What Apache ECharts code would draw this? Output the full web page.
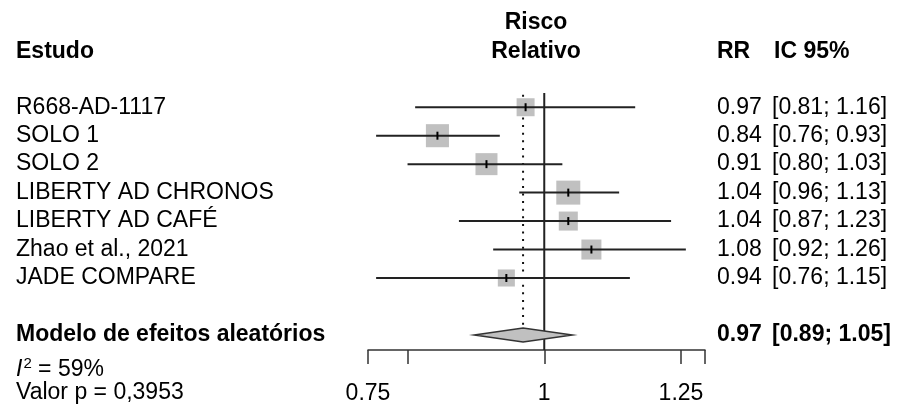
<!DOCTYPE html>
<html>
<head>
<meta charset="utf-8">
<script src="https://cdn.jsdelivr.net/npm/echarts@6/dist/echarts.min.js"></script>
<style>
  html, body { margin: 0; background: #fff; }
  #chart { width: 900px; height: 405px; }
</style>
</head>
<body>
<div id="chart"></div>
<script>
// estudos e estimativas (risco relativo com IC 95%)
const studies = ['R668-AD-1117', 'SOLO 1', 'SOLO 2', 'LIBERTY AD CHRONOS', 'LIBERTY AD CAFÉ', 'Zhao et al., 2021', 'JADE COMPARE'];
const rr = [0.97, 0.84, 0.91, 1.04, 1.04, 1.08, 0.94];
const lower = [0.81, 0.76, 0.80, 0.96, 0.87, 0.92, 0.76];
const upper = [1.16, 0.93, 1.03, 1.13, 1.23, 1.26, 1.15];
// peso (%) de cada estudo, define o tamanho do quadrado
const weights = [10.9, 17.9, 16.3, 19.4, 12.2, 13.5, 9.8];

// modelo de efeitos aleatórios
const pooledLabel = ['Modelo de efeitos aleatórios'];
const pooledRR = [0.966];
const pooledLower = [0.892];
const pooledUpper = [1.047];
const heterogeneity = ['59%'];
const pValue = ['0,3953'];

// eixo x (escala log)
const axisTicks = [0.75, 0.8, 1, 1.25, 1.3];
const tickLabels = [0.75, 1, 1.25];

const FONT = "'Liberation Sans', Arial, sans-serif";
const FS = 23;
const pooledRow = studies.length + 2;
const boxScale = 5.45;

const chart = echarts.init(document.getElementById('chart'));

function txt(x, y, text, opts) {
  return Object.assign({
    type: 'text',
    x: x,
    y: y,
    style: {
      text: text,
      fontFamily: FONT,
      fontSize: FS,
      fill: '#000',
      align: 'left',
      verticalAlign: 'middle'
    }
  }, opts || {});
}

function ciText(lo, hi) {
  return '[' + lo.toFixed(2) + '; ' + hi.toFixed(2) + ']';
}

function renderRefs(params, api) {
  const top = api.coord([0, 0.5]);
  const bottom = api.coord([0, 9.53]);
  const dTop = api.coord([Math.log(pooledRR[0]), 0.56]);
  const dBottom = api.coord([Math.log(pooledRR[0]), pooledRow]);
  return {
    type: 'group',
    children: [
      {
        type: 'line',
        shape: { x1: top[0], y1: top[1], x2: bottom[0], y2: bottom[1] },
        style: { stroke: '#222', lineWidth: 2 }
      },
      {
        type: 'line',
        shape: { x1: dTop[0], y1: dTop[1], x2: dBottom[0], y2: dBottom[1] - 8 },
        style: { stroke: '#111', lineWidth: 2, lineDash: [2, 5.6] }
      }
    ]
  };
}

function renderStudy(params, api) {
  const i = api.value(0);
  const row = i + 1;
  const pl = api.coord([Math.log(lower[i]), row]);
  const pu = api.coord([Math.log(upper[i]), row]);
  const pe = api.coord([Math.log(rr[i]), row]);
  const y = pe[1];
  const side = boxScale * Math.sqrt(weights[i]);
  return {
    type: 'group',
    children: [
      {
        type: 'rect',
        shape: { x: pe[0] - side / 2, y: y - side / 2, width: side, height: side },
        style: { fill: '#c0c0c0' }
      },
      {
        type: 'line',
        shape: { x1: pl[0], y1: y, x2: pu[0], y2: y },
        style: { stroke: '#222', lineWidth: 2 }
      },
      {
        type: 'line',
        shape: { x1: pe[0], y1: y - 4, x2: pe[0], y2: y + 4 },
        style: { stroke: '#000', lineWidth: 2 }
      },
      txt(16, y, studies[i]),
      txt(717, y, rr[i].toFixed(2)),
      txt(772, y, ciText(lower[i], upper[i]))
    ]
  };
}

function renderPooled(params, api) {
  const pl = api.coord([Math.log(pooledLower[0]), pooledRow]);
  const pu = api.coord([Math.log(pooledUpper[0]), pooledRow]);
  const pe = api.coord([Math.log(pooledRR[0]), pooledRow]);
  const y = pe[1];
  const h = 7;
  const b = function (x, t) {
    const el = txt(x, y, t);
    el.style.fontWeight = 'bold';
    return el;
  };
  return {
    type: 'group',
    children: [
      {
        type: 'polygon',
        shape: { points: [[pl[0], y], [pe[0], y - h], [pu[0], y], [pe[0], y + h]] },
        style: { fill: '#c0c0c0', stroke: '#333', lineWidth: 1.5 }
      },
      b(16, pooledLabel[0]),
      b(717, pooledRR[0].toFixed(2)),
      b(772, ciText(pooledLower[0], pooledUpper[0]))
    ]
  };
}

const header = { fontFamily: FONT, fontSize: FS, fontWeight: 'bold', fill: '#000' };

chart.setOption({
  animation: false,
  backgroundColor: '#fff',
  grid: { left: 368, right: 195, top: 93, bottom: 55 },
  xAxis: {
    type: 'value',
    min: Math.log(0.75),
    max: Math.log(1.3),
    splitLine: { show: false },
    axisLine: { onZero: false, lineStyle: { color: '#333', width: 1.5 } },
    axisTick: {
      length: 14,
      lineStyle: { color: '#333', width: 1.5 },
      customValues: axisTicks.map(Math.log)
    },
    axisLabel: {
      margin: 32,
      color: '#000',
      fontFamily: FONT,
      fontSize: FS,
      customValues: tickLabels.map(Math.log),
      formatter: function (v) {
        return String(Number(Math.exp(v).toFixed(2)));
      }
    }
  },
  yAxis: {
    type: 'value',
    inverse: true,
    min: 0.5,
    max: 9.53,
    show: false
  },
  graphic: [
    { type: 'text', x: 16, y: 52, style: Object.assign({ text: 'Estudo', verticalAlign: 'middle' }, header) },
    { type: 'text', x: 536, y: 23, style: Object.assign({ text: 'Risco', align: 'center', verticalAlign: 'middle' }, header) },
    { type: 'text', x: 536, y: 52, style: Object.assign({ text: 'Relativo', align: 'center', verticalAlign: 'middle' }, header) },
    { type: 'text', x: 717, y: 52, style: Object.assign({ text: 'RR', verticalAlign: 'middle' }, header) },
    { type: 'text', x: 774, y: 52, style: Object.assign({ text: 'IC 95%', verticalAlign: 'middle' }, header) },
    {
      type: 'text', x: 16, y: 370,
      style: {
        text: '{i|I}{s|2} = ' + heterogeneity[0],
        fontFamily: FONT, fontSize: FS, fill: '#000', verticalAlign: 'middle',
        rich: {
          i: { fontFamily: FONT, fontSize: FS, fontStyle: 'italic', fill: '#000' },
          s: { fontFamily: FONT, fontSize: 15, fill: '#000', padding: [0, 0, 13, 1] }
        }
      }
    },
    {
      type: 'text', x: 16, y: 393,
      style: { text: 'Valor p = ' + pValue[0], fontFamily: FONT, fontSize: FS, fill: '#000', verticalAlign: 'middle' }
    }
  ],
  series: [
    {
      type: 'custom',
      name: 'refs',
      clip: false,
      silent: true,
      data: [[0]],
      renderItem: renderRefs
    },
    {
      type: 'custom',
      name: 'estudos',
      clip: false,
      silent: true,
      data: studies.map(function (s, i) { return [i]; }),
      renderItem: renderStudy
    },
    {
      type: 'custom',
      name: 'modelo',
      clip: false,
      silent: true,
      data: [[0]],
      renderItem: renderPooled
    }
  ]
});
</script>
</body>
</html>
